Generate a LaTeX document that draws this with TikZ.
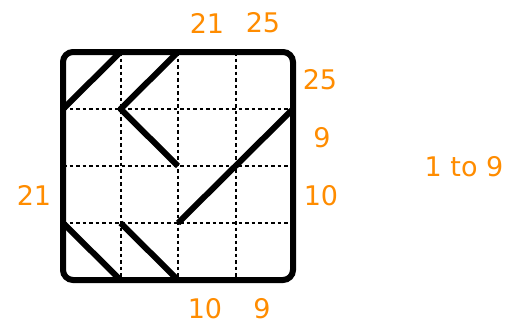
\documentclass[tikz,border=0pt]{standalone}
\usepackage{fontspec}
\setmainfont{DejaVu Sans}
\definecolor{labcol}{RGB}{255,140,0}
\begin{document}
\begin{tikzpicture}[x=1pt,y=-1pt,
  lab/.style={text=labcol, font=\fontsize{27}{29}\selectfont, inner sep=0pt, anchor=center},
  gridl/.style={line width=2pt, dash pattern=on 3.5pt off 3pt},
  thick line/.style={line width=6pt, line join=round},
  border/.style={line width=6pt, rounded corners=10pt}]
\useasboundingbox (0,0) rectangle (519,324);
% grid coordinates
\foreach \i/\x in {0/63,1/120.5,2/178,3/235.5,4/293}{
  \foreach \j/\y in {0/52,1/109,2/166,3/223,4/280}{
    \coordinate (p\i\j) at (\x,\y);
  }
}
% dashed grid
\foreach \i in {1,2,3}{
  \draw[gridl] (p\i0) -- (p\i4);
  \draw[gridl] (p0\i) -- (p4\i);
}
% border
\draw[border] (p00) rectangle (p44);
% thick paths
\draw[thick line] (p01) -- (p10);
\draw[thick line] (p20) -- (p11) -- (p22);
\draw[thick line] (p41) -- (p23);
\draw[thick line] (p03) -- (p14);
\draw[thick line] (p13) -- (p24);
% labels
\node[lab] (t21) at (207,23) {21};
\node[lab] (t25) at (263,23) {25};
\node[lab] (r25) at (320,80) {25};
\node[lab] (r9) at (322,138) {9};
\node[lab] (r10) at (321,196) {10};
\node[lab] (l21) at (34,195) {21};
\node[lab] (b10) at (205,309) {10};
\node[lab] (b9) at (262,309) {9};
\node[lab] (rng) at (464,167) {1 to 9};
\end{tikzpicture}
\end{document}
